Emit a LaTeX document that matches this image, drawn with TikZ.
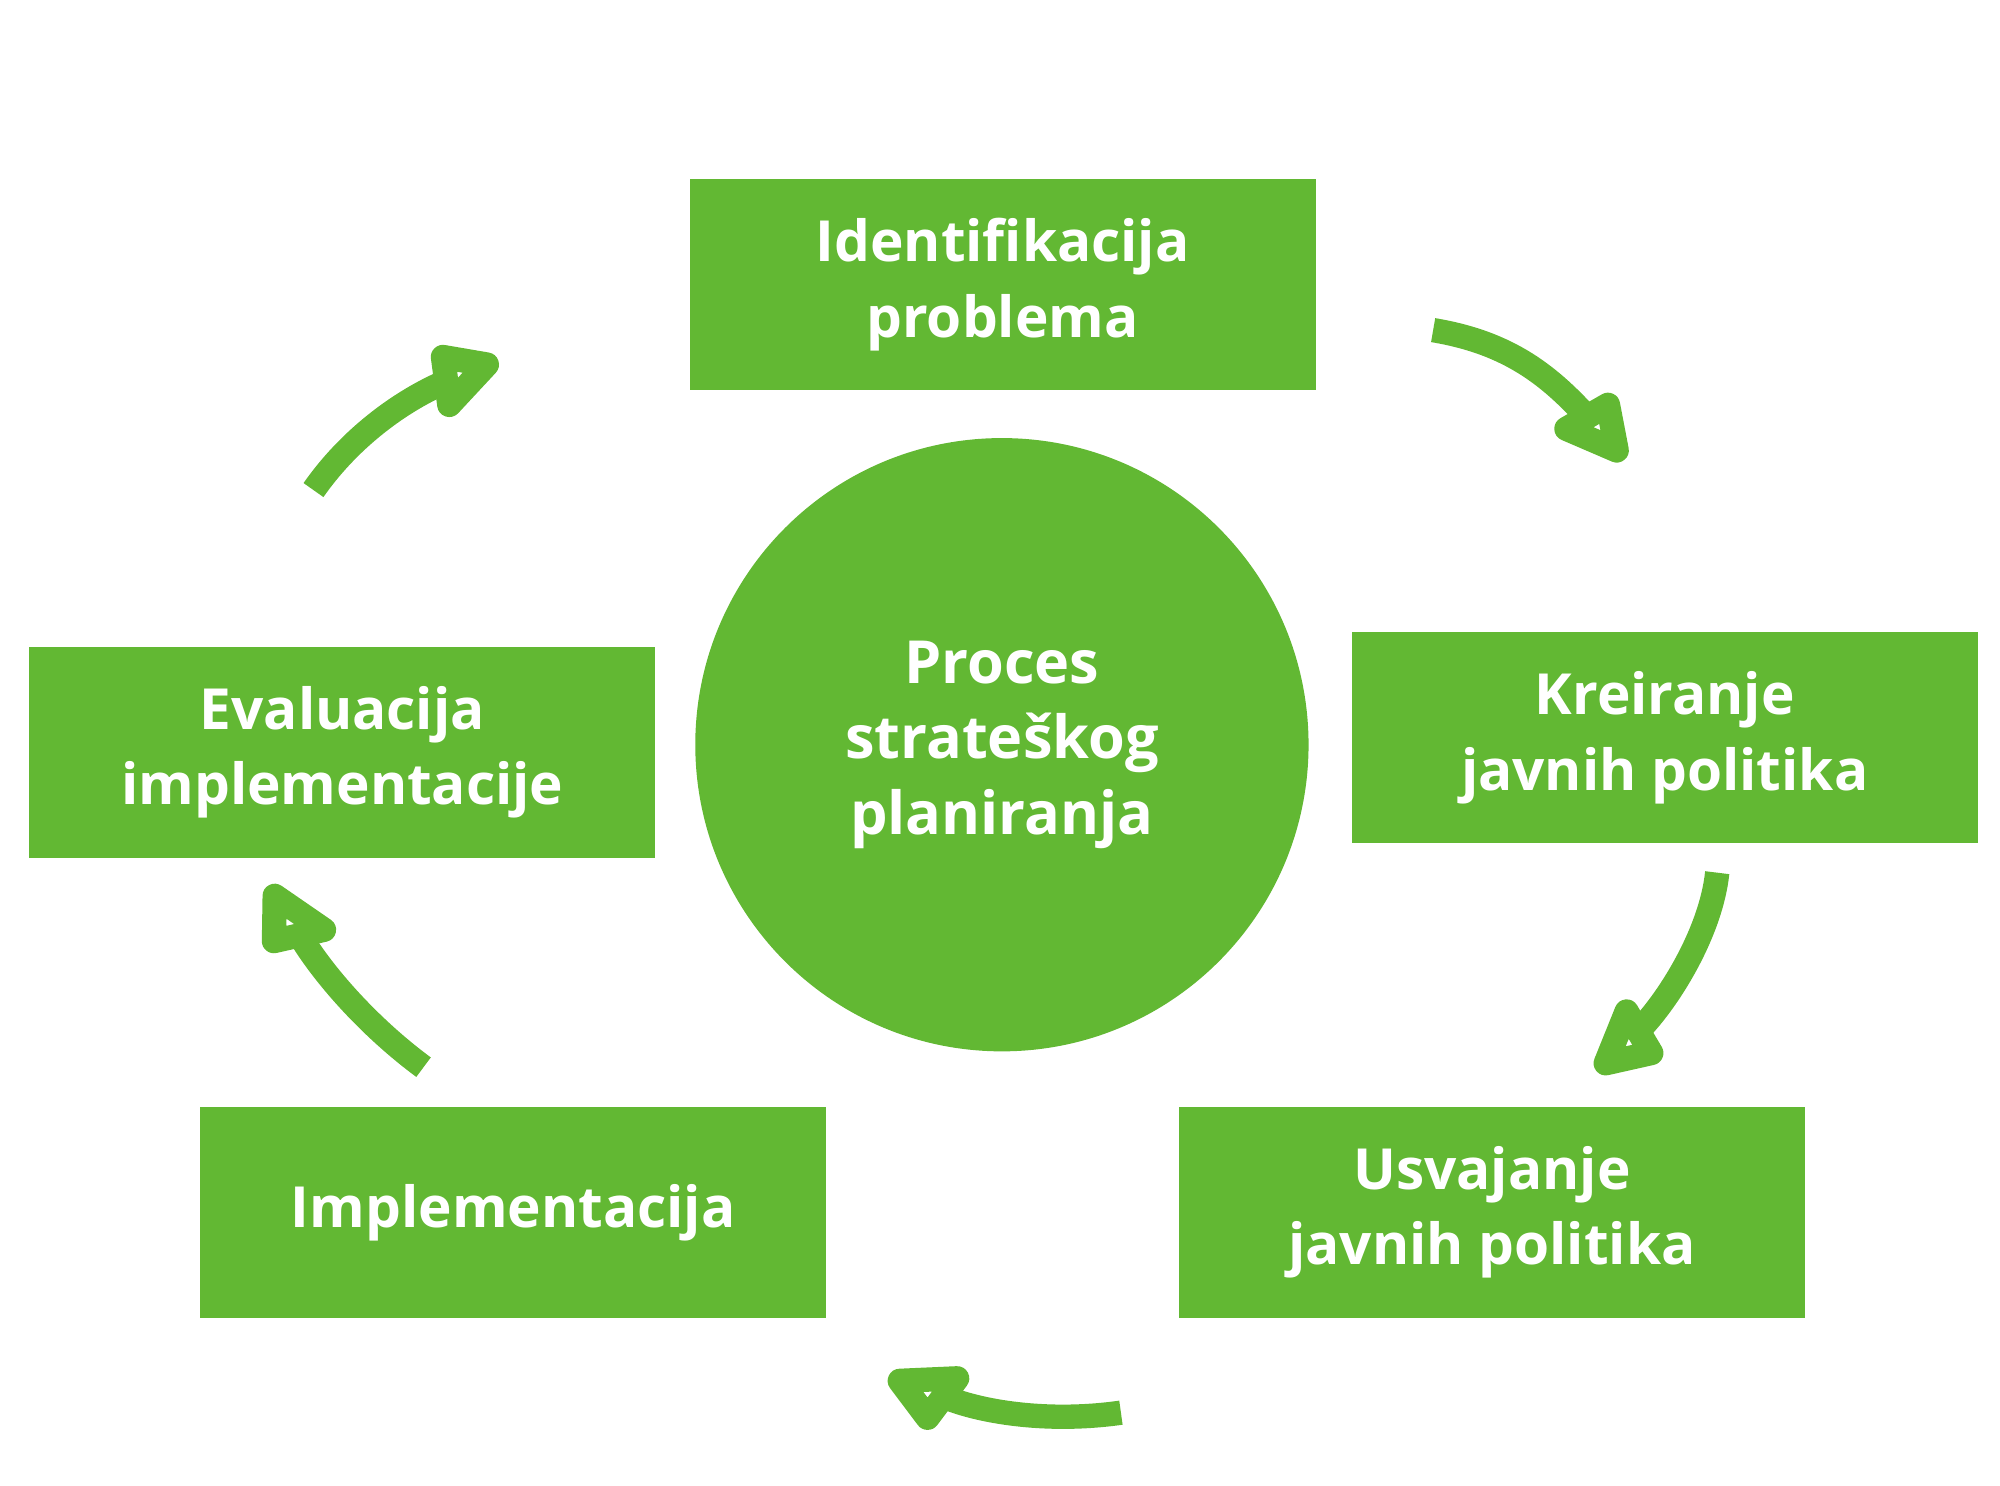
\documentclass[tikz,border=0pt]{standalone}
\usepackage{fontspec}
\setmainfont{Open Sans}
\usepackage{tikz}
\usetikzlibrary{calc,positioning}
\definecolor{procgreen}{RGB}{98,184,51}
\tikzset{
  korak/.style={fill=procgreen, text=white, font=\bfseries\fontsize{12.6}{16.8}\selectfont, minimum width=4.89cm, minimum height=1.65cm, align=center, inner sep=0pt},
  krug/.style={circle, fill=procgreen, text=white, font=\bfseries\fontsize{13.2}{16.8}\selectfont, minimum size=4.79cm, align=center, inner sep=0pt},
  strelica/.style={draw=procgreen, line width=0.19cm},
  vrh/.style={draw=procgreen, line width=0.19cm, line join=round}
}

\begin{document}
\begin{tikzpicture}[x=0.01cm, y=-0.01cm]
\useasboundingbox (0,0) rectangle (1563,1161);
\node[krug] (proces) at (783,582) {Proces\\strateškog\\planiranja};
\node[korak] (ident) at (783.5,222.5) {Identifikacija\\problema};
\node[korak] (kreir) at (1301,576.5) {Kreiranje\\javnih politika};
\node[korak] (usvaj) at (1166,947.5) {Usvajanje\\javnih politika};
\node[korak] (impl) at (401,947.5) {Implementacija};
\node[korak] (eval) at (267.5,588) {Evaluacija\\implementacije};
% krajevi strelica: s = pocetak, n = ulaz u vrh, t = vrh, a/b = krila
\coordinate (s1) at (1120,258); \coordinate (n1) at (1244,330); \coordinate (t1) at (1274,364);
\coordinate (a1) at (1264,302); \coordinate (b1) at (1205,336);
\coordinate (s2) at (1342,682); \coordinate (n2) at (1278,808); \coordinate (t2) at (1243,842);
\coordinate (a2) at (1270,771); \coordinate (b2) at (1305,830);
\coordinate (s3) at (876,1104); \coordinate (n3) at (734,1090); \coordinate (t3) at (688,1073);
\coordinate (a3) at (766,1068); \coordinate (b3) at (724,1124);
\coordinate (s4) at (331,834);  \coordinate (n4) at (232,727);  \coordinate (t4) at (206,686);
\coordinate (a4) at (203,747);  \coordinate (b4) at (274,731);
\coordinate (s5) at (245,383);  \coordinate (n5) at (354,296);  \coordinate (t5) at (395,279);
\coordinate (a5) at (336,267);  \coordinate (b5) at (345,335);
\draw[strelica] (s1) .. controls (1180,268) and (1212,294) .. (n1);
\draw[strelica] (s2) .. controls (1337,730) and (1302,785) .. (n2);
\draw[strelica] (s3) .. controls (820,1112) and (765,1104) .. (n3);
\draw[strelica] (s4) .. controls (285,800) and (248,756) .. (n4);
\draw[strelica] (s5) .. controls (275,340) and (318,310) .. (n5);
% vrhovi strelica: debeli obrub manjeg trokuta
\foreach \i in {1,...,5} {
  \coordinate (c\i) at ($0.333*(t\i)+0.333*(a\i)+0.334*(b\i)$);
  \draw[vrh] ($(c\i)!0.6!(t\i)$) -- ($(c\i)!0.55!(a\i)$) -- ($(c\i)!0.55!(b\i)$) -- cycle;
}
\end{tikzpicture}
\end{document}
